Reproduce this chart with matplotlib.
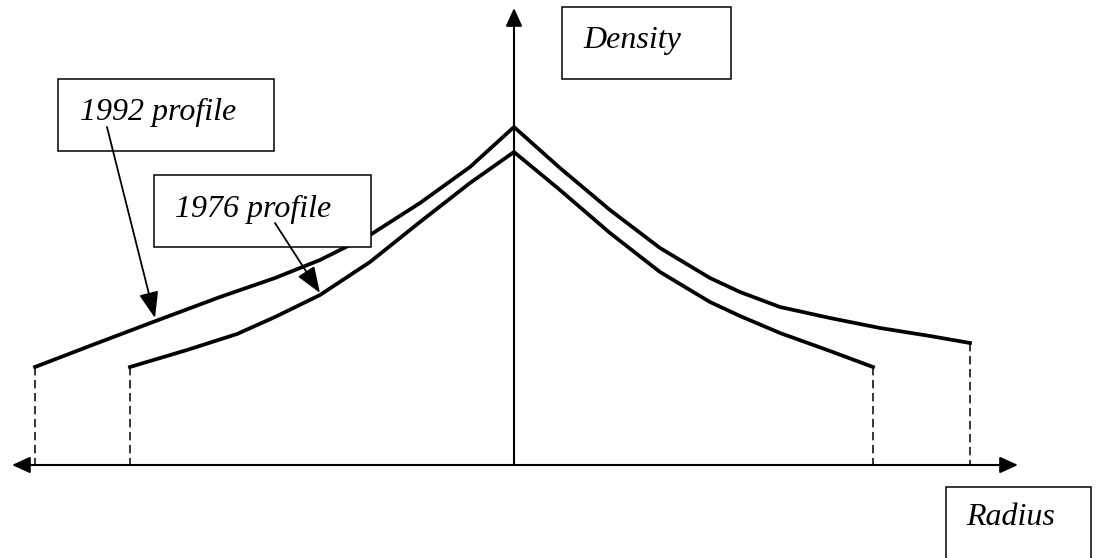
import matplotlib.pyplot as plt
from matplotlib.patches import Rectangle

# radius / density (arbitrary units, centre = 0)
r_1992 = [-479, -427, -361, -294, -239, -194, -144, -94, -44, 0,
          46, 96, 146, 196, 226, 266, 316, 366, 416, 456]
d_1992 = [98, 118, 143, 168, 187, 205, 230, 262, 298, 338,
          297, 255, 217, 187, 173, 158, 147, 137, 129, 122]

r_1976 = [-384, -327, -277, -239, -194, -144, -94, -44, 0,
          46, 96, 146, 196, 226, 266, 316, 359]
d_1976 = [98, 115, 131, 148, 170, 203, 243, 282, 313,
          275, 232, 193, 163, 149, 132, 114, 98]

labels = ['Density', '1992 profile', '1976 profile', 'Radius']

fig = plt.figure(figsize=(10.99, 5.58), dpi=100)
ax = fig.add_axes([0, 0, 1, 1])
ax.set_xlim(-514, 585)
ax.set_ylim(-93, 465)
ax.axis('off')

# axes with arrows
ax.annotate('', xy=(0, 457), xytext=(0, 0),
            arrowprops=dict(arrowstyle='-|>,head_length=0.55,head_width=0.25',
                            lw=1.5, color='black', shrinkA=0, shrinkB=0,
                            mutation_scale=20))
ax.annotate('', xy=(504, 0), xytext=(-502, 0),
            arrowprops=dict(arrowstyle='<|-|>,head_length=0.55,head_width=0.25',
                            lw=1.5, color='black', shrinkA=0, shrinkB=0,
                            mutation_scale=20))

# profiles
ax.plot(r_1992, d_1992, color='black', lw=2.7, solid_joinstyle='round', zorder=2)
ax.plot(r_1976, d_1976, color='black', lw=2.7, solid_joinstyle='round', zorder=2)

# dashed drops at the edges
for r, d in [(r_1992[0], d_1992[0]), (r_1992[-1], d_1992[-1]),
             (r_1976[0], d_1976[0]), (r_1976[-1], d_1976[-1])]:
    ax.plot([r, r], [d, 0], color='black', lw=1.1, ls=(0, (5.5, 3)), zorder=1)

# label boxes
boxes = [(48, 386, 169, 72), (-456, 314, 216, 72),
         (-360, 218, 217, 72), (432, -105, 145, 83)]
text_pos = [(69, 417), (-434, 345), (-339, 248), (452, -60)]
for (x, y, w, h), (tx, ty), lab in zip(boxes, text_pos, labels):
    ax.add_patch(Rectangle((x, y), w, h, facecolor='white', edgecolor='black',
                           lw=1.1, zorder=3))
    ax.text(tx, ty, lab, fontsize=23, family='Liberation Serif', style='italic',
            ha='left', va='baseline', zorder=4)

# pointers from labels to curves
ax.annotate('', xy=(-359, 147), xytext=(-407, 338),
            arrowprops=dict(arrowstyle='-|>,head_length=0.8,head_width=0.3',
                            lw=1.3, color='black', shrinkA=0, shrinkB=0,
                            mutation_scale=20), zorder=5)
ax.annotate('', xy=(-194, 172), xytext=(-239, 242),
            arrowprops=dict(arrowstyle='-|>,head_length=0.8,head_width=0.3',
                            lw=1.3, color='black', shrinkA=0, shrinkB=0,
                            mutation_scale=20), zorder=5)

fig.savefig('out.png', dpi=100)
